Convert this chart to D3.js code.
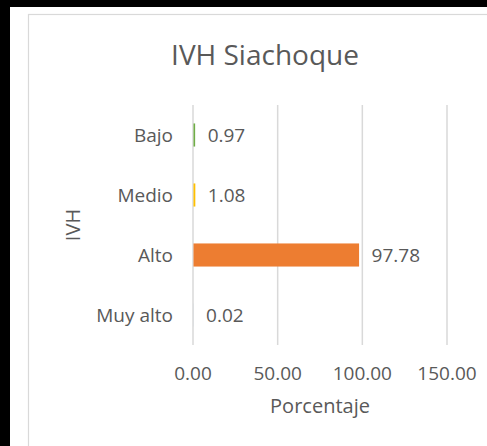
<!DOCTYPE html>
<html>
<head>
<meta charset="utf-8">
<script src="https://cdn.jsdelivr.net/npm/d3@7"></script>
<style>
  html, body { margin: 0; padding: 0; background: #fff; }
  svg text { font-family: "Open Sans", sans-serif; fill: #595959; }
</style>
</head>
<body>
<svg id="chart" width="487" height="446"></svg>
<script>
// data
var categories = ['Bajo', 'Medio', 'Alto', 'Muy alto'];
var values = [0.97, 1.08, 97.78, 0.02];
var barColors = ['#70AD47', '#FFC000', '#ED7D31', '#4472C4'];
var xTicks = [0, 50, 100, 150];

var svg = d3.select('#chart');
var plot = { left: 193, right: 447, top: 105, bottom: 345 };

// black frame (top + left) and the light chart-area border
svg.append('rect').attr('x', 0).attr('y', 0).attr('width', 487).attr('height', 7).attr('fill', '#000');
svg.append('rect').attr('x', 0).attr('y', 0).attr('width', 10).attr('height', 446).attr('fill', '#000');
svg.append('rect')
  .attr('x', 28.5).attr('y', 14.5)
  .attr('width', 470).attr('height', 440)
  .attr('fill', 'none')
  .attr('stroke', '#D9D9D9')
  .attr('stroke-width', 1.2);

var x = d3.scaleLinear()
  .domain([0, 150])
  .range([plot.left, plot.right]);

var y = d3.scaleBand()
  .domain(categories)
  .range([plot.top, plot.bottom])
  .paddingInner(0.615)
  .paddingOuter(0.3075);

// vertical gridlines
svg.append('g')
  .selectAll('line')
  .data(xTicks)
  .enter()
  .append('line')
  .attr('x1', d => x(d)).attr('x2', d => x(d))
  .attr('y1', plot.top).attr('y2', plot.bottom)
  .attr('stroke', '#D9D9D9')
  .attr('stroke-width', 1.5);

// x tick labels
svg.append('g')
  .selectAll('text')
  .data(xTicks)
  .enter()
  .append('text')
  .attr('x', d => x(d))
  .attr('y', 380)
  .attr('text-anchor', 'middle')
  .attr('font-size', '19px')
  .text(d => d3.format('.2f')(d));

// category labels
svg.append('g')
  .selectAll('text')
  .data(categories)
  .enter()
  .append('text')
  .attr('x', plot.left - 20)
  .attr('y', d => y(d) + y.bandwidth() / 2)
  .attr('dy', '0.35em')
  .attr('text-anchor', 'end')
  .attr('font-size', '19px')
  .text(d => d);

// bars
svg.append('g')
  .selectAll('rect')
  .data(values)
  .enter()
  .append('rect')
  .attr('x', x(0) + 0.5)
  .attr('y', (d, i) => y(categories[i]))
  .attr('width', d => Math.max(x(d) - x(0), 0))
  .attr('height', y.bandwidth())
  .attr('fill', (d, i) => barColors[i]);

// value labels
svg.append('g')
  .selectAll('text')
  .data(values)
  .enter()
  .append('text')
  .attr('x', d => x(d) + 13)
  .attr('y', (d, i) => y(categories[i]) + y.bandwidth() / 2)
  .attr('dy', '0.35em')
  .attr('font-size', '19px')
  .text(d => d3.format('.2f')(d));

// title
svg.append('text')
  .attr('x', 265)
  .attr('y', 65)
  .attr('text-anchor', 'middle')
  .attr('font-size', '28px')
  .text('IVH Siachoque');

// axis titles
svg.append('text')
  .attr('x', (plot.left + plot.right) / 2)
  .attr('y', 413)
  .attr('text-anchor', 'middle')
  .attr('font-size', '20px')
  .text('Porcentaje');

svg.append('text')
  .attr('transform', 'translate(80,' + (plot.top + plot.bottom) / 2 + ') rotate(-90)')
  .attr('text-anchor', 'middle')
  .attr('font-size', '20px')
  .text('IVH');
</script>
</body>
</html>
